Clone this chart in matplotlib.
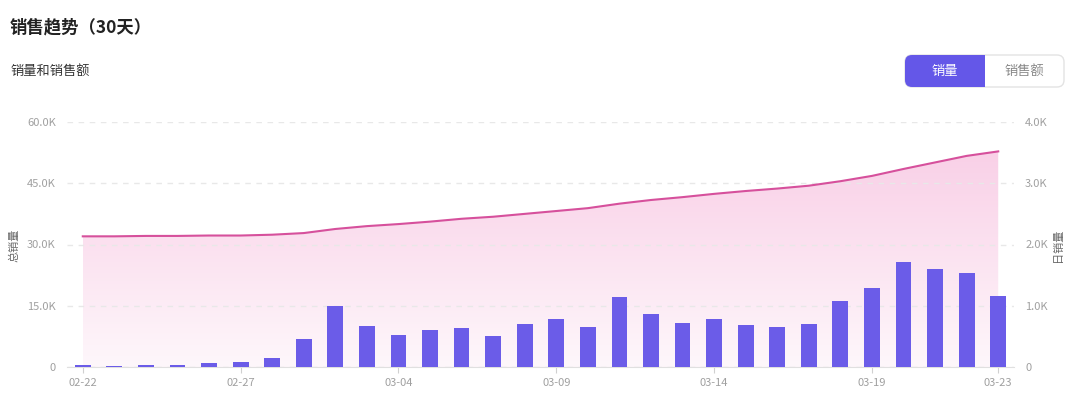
import numpy as np
import matplotlib
matplotlib.use("Agg")
import matplotlib.pyplot as plt
from matplotlib.colors import LinearSegmentedColormap
from matplotlib.patches import FancyBboxPatch, Rectangle
from matplotlib.ticker import FuncFormatter

plt.rcParams["font.family"] = ["Noto Sans CJK SC", "DejaVu Sans"]

# data
dates = ["02-22", "02-23", "02-24", "02-25", "02-26", "02-27", "02-28",
         "03-01", "03-02", "03-03", "03-04", "03-05", "03-06", "03-07",
         "03-08", "03-09", "03-10", "03-11", "03-12", "03-13", "03-14",
         "03-15", "03-16", "03-17", "03-18", "03-19", "03-20", "03-21",
         "03-22", "03-23"]
daily_sales = [30, 20, 35, 35, 70, 75, 150, 450, 1000, 670, 525, 600, 630, 500,
               705, 780, 655, 1150, 860, 720, 780, 680, 645, 710, 1075, 1285,
               1720, 1595, 1540, 1165]
total_sales = [32000, 32000, 32100, 32100, 32200, 32200, 32400, 32800, 33800,
               34500, 35000, 35600, 36300, 36800, 37500, 38200, 38900, 40000,
               40900, 41600, 42400, 43100, 43700, 44400, 45500, 46800, 48500,
               50100, 51700, 52800]
tick_idx = [0, 5, 10, 15, 20, 25, 29]

BAR = "#6b5ce8"
LINE = "#d6509c"
TXT = "#a0a0a0"

fig = plt.figure(figsize=(10.8, 4.08), dpi=100)

# header
fig.text(10 / 1080, 1 - 27 / 408, "销售趋势（30天）", fontsize=12.5, fontweight="bold",
         color="#222222", va="center", ha="left")
fig.text(10 / 1080, 1 - 71 / 408, "销量和销售额", fontsize=9.5, color="#333333",
         va="center", ha="left")

# toggle button
bx = fig.add_axes([905 / 1080, 1 - 87 / 408, 159 / 1080, 32 / 408])
bx.set_xlim(0, 159)
bx.set_ylim(0, 32)
bx.axis("off")
bx.add_patch(FancyBboxPatch((0, 0), 159, 32, boxstyle="round,pad=0,rounding_size=7",
                            facecolor="white", edgecolor="#e3e3e3", lw=1, clip_on=False))
bx.add_patch(FancyBboxPatch((0, 0), 80, 32, boxstyle="round,pad=0,rounding_size=7",
                            facecolor="#6457e8", edgecolor="none", clip_on=False))
bx.add_patch(Rectangle((50, 0), 30, 32, facecolor="#6457e8", edgecolor="none", clip_on=False))
bx.text(40, 16, "销量", color="white", fontsize=9.5, ha="center", va="center")
bx.text(119, 16, "销售额", color="#888888", fontsize=9.5, ha="center", va="center")

# main axes
ax = fig.add_axes([67 / 1080, 1 - 367 / 408, 947 / 1080, 245 / 408])
x = np.arange(len(dates))

ax.plot(x, total_sales, color=LINE, lw=1.5, zorder=3)
poly = ax.fill_between(x, total_sales, 0, color="none", zorder=1)
cmap = LinearSegmentedColormap.from_list("pinkfade", ["#fef7fb", "#f9d0e7"])
grad = np.linspace(1, 0, 256).reshape(-1, 1)
im = ax.imshow(grad, extent=[x[0], x[-1], 0, max(total_sales)], aspect="auto",
               cmap=cmap, origin="upper", zorder=1)
im.set_clip_path(poly.get_paths()[0], transform=ax.transData)

ax.set_xlim(-0.5, len(dates) - 0.5)
ax.set_ylim(0, 60000)
ax.set_yticks([0, 15000, 30000, 45000, 60000])
ax.yaxis.set_major_formatter(FuncFormatter(lambda v, p: "0" if v == 0 else f"{v / 1000:.1f}K"))
ax.grid(axis="y", color="#e8e8e8", linestyle=(0, (4, 4)), lw=1, zorder=2)
ax.set_axisbelow(False)
ax.set_xticks(tick_idx)
ax.set_xticklabels([dates[i] for i in tick_idx])
ax.tick_params(axis="x", colors="#d0d0d0", labelcolor=TXT, labelsize=8, length=4, pad=4)
ax.tick_params(axis="y", length=0, labelcolor=TXT, labelsize=8, pad=8)
for s in ["top", "right", "left"]:
    ax.spines[s].set_visible(False)
ax.spines["bottom"].set_color("#e0e0e0")
ax.spines["bottom"].set_zorder(5)

# bars on the right axis
ax2 = ax.twinx()
ax2.bar(x, daily_sales, width=0.5, color=BAR, zorder=3)
ax2.set_ylim(0, 4000)
ax2.set_yticks([0, 1000, 2000, 3000, 4000])
ax2.yaxis.set_major_formatter(FuncFormatter(lambda v, p: "0" if v == 0 else f"{v / 1000:.1f}K"))
ax2.tick_params(axis="y", length=0, labelcolor=TXT, labelsize=8, pad=8)
for s in ["top", "right", "left", "bottom"]:
    ax2.spines[s].set_visible(False)

fig.text(14 / 1080, 1 - 245 / 408, "总销量", rotation=90, fontsize=8, color="#666666",
         ha="center", va="center")
fig.text(1058 / 1080, 1 - 245 / 408, "日销量", rotation=90, fontsize=8, color="#666666",
         ha="center", va="center")

fig.savefig("out.png", dpi=100, facecolor="white")
